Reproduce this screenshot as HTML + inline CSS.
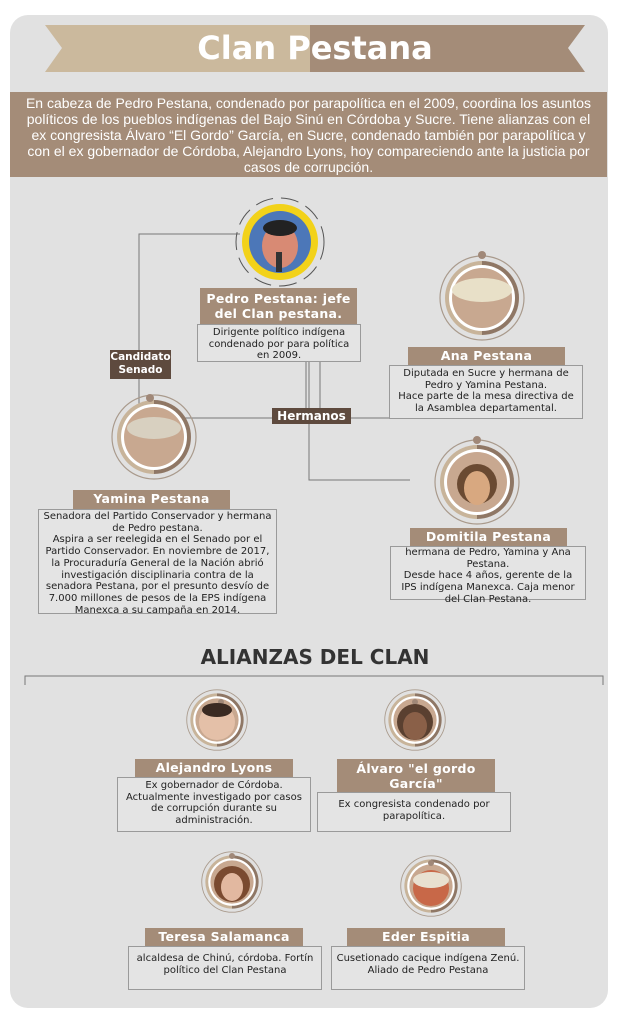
<!DOCTYPE html>
<html><head><meta charset="utf-8"><style>
body{margin:0;width:617px;height:1024px;background:#fff;position:relative;overflow:hidden;font-family:"Liberation Sans","DejaVu Sans",sans-serif}
.a{position:absolute}
.card{left:10px;top:15px;width:598px;height:993px;background:#e1e1e1;border-radius:18px}
.lab{position:absolute;background:#a48c78;color:#fff;font-weight:bold;font-size:12.5px;text-align:center;font-family:"DejaVu Sans",sans-serif;line-height:17px;letter-spacing:.3px}
.desc{position:absolute;border:1px solid #9a9a9a;background:#e4e4e4;color:#222;font-size:10px;text-align:center;line-height:11.7px;font-family:"DejaVu Sans",sans-serif;box-sizing:border-box;padding-top:2px;white-space:nowrap}
.dk{position:absolute;background:#5e4a3e;color:#fff;font-weight:bold;font-size:10.5px;text-align:center;font-family:"DejaVu Sans",sans-serif}
</style></head><body>
<div class="a card"></div>
<svg class="a" style="left:0;top:0" width="617" height="1024">
<polygon points="45,25 310,25 310,72 45,72 62,48" fill="#cbb99d"/>
<polygon points="310,25 585,25 568,48 585,72 310,72" fill="#a48c78"/>
<rect x="10" y="92" width="597" height="85" fill="#a48c78"/>
<g stroke="#777" stroke-width="1" fill="none">
<polyline points="240,234 139,234 139,405"/>
<line x1="306" y1="362" x2="306" y2="418"/><line x1="309" y1="362" x2="309" y2="418"/><line x1="320" y1="362" x2="320" y2="418"/>
<line x1="185" y1="418" x2="390" y2="418"/>
<polyline points="309,424 309,480 410,480"/>
<polyline points="25,685 25,676 603,676 603,685"/>
</g>
<circle cx="280" cy="242" r="44" fill="none" stroke="#555" stroke-width="1" stroke-dasharray="18 8"/>
<circle cx="280" cy="242" r="38" fill="#f2d21a"/>
<circle cx="280" cy="242" r="31" fill="#4c77b8"/>
<ellipse cx="280" cy="246" rx="18" ry="22" fill="#d88a74"/>
<ellipse cx="280" cy="228" rx="17" ry="8" fill="#222"/>
<rect x="276" y="252" width="6" height="20" fill="#333"/>
</svg>
<svg class="a" style="left:0;top:0" width="617" height="1024">
<defs>
<g id="ring">
<circle r="42" fill="none" stroke="#a99a8c" stroke-width="1.2"/>
<path d="M0,-37 A37,37 0 0 0 0,37 Z" fill="#c8b49a"/>
<path d="M0,-37 A37,37 0 0 1 0,37 Z" fill="#8f7765"/>
<circle r="33" fill="#fff"/>
<circle r="30" fill="#c8a890"/>
</g>
</defs>
<use href="#ring" x="482" y="298"/><circle cx="482" cy="255" r="4" fill="#a08878"/>
<use href="#ring" x="154" y="437"/><circle cx="150" cy="398" r="4" fill="#a08878"/>
<use href="#ring" x="477" y="482"/><circle cx="477" cy="440" r="4" fill="#a08878"/>
<g transform="translate(217,720) scale(.72)"><use href="#ring"/></g><circle cx="221" cy="702" r="3" fill="#a08878"/>
<g transform="translate(415,720) scale(.72)"><use href="#ring"/></g><circle cx="415" cy="702" r="3" fill="#a08878"/>
<g transform="translate(232,882) scale(.72)"><use href="#ring"/></g><circle cx="232" cy="856" r="3" fill="#a08878"/>
<g transform="translate(431,886) scale(.72)"><use href="#ring"/></g><circle cx="431" cy="863" r="3" fill="#a08878"/>
<ellipse cx="482" cy="290" rx="30" ry="12" fill="#e8e0c8"/>
<ellipse cx="154" cy="428" rx="27" ry="11" fill="#d8d0c0"/>
<circle cx="477" cy="484" r="20" fill="#6a4a32"/><ellipse cx="477" cy="488" rx="13" ry="17" fill="#d8a880"/>
<circle cx="217" cy="722" r="18" fill="#e4c0a8"/><ellipse cx="217" cy="710" rx="15" ry="7" fill="#3a2a22"/>
<circle cx="415" cy="722" r="18" fill="#5a4030"/><ellipse cx="415" cy="726" rx="12" ry="14" fill="#8a6048"/>
<circle cx="232" cy="884" r="18" fill="#7a4a30"/><ellipse cx="232" cy="887" rx="11" ry="14" fill="#e2b8a0"/>
<circle cx="431" cy="888" r="18" fill="#c86848"/><ellipse cx="431" cy="880" rx="18" ry="8" fill="#e8e0d0"/>
</svg>
<div class="a" style="left:45px;top:25px;width:540px;height:47px;line-height:47px;text-align:center;color:#fff;font-weight:bold;font-size:32px;font-family:'DejaVu Sans',sans-serif">Clan Pestana</div>
<div class="a" style="left:10px;top:95px;width:597px;text-align:center;color:#fff;font-size:14px;line-height:16px;white-space:nowrap">En cabeza de Pedro Pestana, condenado por parapolítica en el 2009, coordina los asuntos<br>políticos de los pueblos indígenas del Bajo Sinú en Córdoba y Sucre. Tiene alianzas con el<br>ex congresista Álvaro “El Gordo” García, en Sucre, condenado también por parapolítica y<br>con el ex gobernador de Córdoba, Alejandro Lyons, hoy compareciendo ante la justicia por<br>casos de corrupción.</div>

<div class="lab" style="left:200px;top:288px;width:157px;height:36px;line-height:15px;padding-top:3px;box-sizing:border-box">Pedro Pestana: jefe<br>del Clan pestana.</div>
<div class="desc" style="left:197px;top:324px;width:164px;height:38px">Dirigente político indígena<br>condenado por para política<br>en 2009.</div>
<div class="dk" style="left:110px;top:350px;width:61px;height:28px;line-height:13px;padding-top:1px">Candidato<br>Senado</div>
<div class="dk" style="left:272px;top:408px;width:79px;height:16px;line-height:16px;font-size:12px">Hermanos</div>

<div class="lab" style="left:408px;top:347px;width:157px;height:18px">Ana Pestana</div>
<div class="desc" style="left:389px;top:365px;width:194px;height:54px">Diputada en Sucre y hermana de<br>Pedro y Yamina Pestana.<br>Hace parte de la mesa directiva de<br>la Asamblea departamental.</div>

<div class="lab" style="left:73px;top:490px;width:157px;height:19px">Yamina Pestana</div>
<div class="desc" style="left:38px;top:509px;width:239px;height:105px;padding-top:1px">Senadora del Partido Conservador y hermana<br>de Pedro pestana.<br>Aspira a ser reelegida en el Senado por el<br>Partido Conservador. En noviembre de 2017,<br>la Procuraduría General de la Nación abrió<br>investigación disciplinaria contra de la<br>senadora Pestana, por el presunto desvío de<br>7.000 millones de pesos de la EPS indígena<br>Manexca a su campaña en 2014.</div>

<div class="lab" style="left:410px;top:528px;width:157px;height:18px">Domitila Pestana</div>
<div class="desc" style="left:390px;top:546px;width:196px;height:54px;padding-top:0">hermana de Pedro, Yamina y Ana<br>Pestana.<br>Desde hace 4 años, gerente de la<br>IPS indígena Manexca. Caja menor<br>del Clan Pestana.</div>

<div class="a" style="left:150px;top:645px;width:330px;text-align:center;font-weight:bold;font-size:20px;color:#333;font-family:'DejaVu Sans',sans-serif">ALIANZAS DEL CLAN</div>

<div class="lab" style="left:135px;top:759px;width:158px;height:18px">Alejandro Lyons</div>
<div class="desc" style="left:117px;top:777px;width:194px;height:55px">Ex gobernador de Córdoba.<br>Actualmente investigado por casos<br>de corrupción durante su<br>administración.</div>
<div class="lab" style="left:337px;top:759px;width:158px;height:33px;line-height:15px;padding-top:2px;box-sizing:border-box">Álvaro "el gordo<br>García"</div>
<div class="desc" style="left:317px;top:792px;width:194px;height:40px;padding-top:6px">Ex congresista condenado por<br>parapolítica.</div>

<div class="lab" style="left:145px;top:928px;width:158px;height:18px">Teresa Salamanca</div>
<div class="desc" style="left:128px;top:946px;width:194px;height:44px;padding-top:6px">alcaldesa de Chinú, córdoba. Fortín<br>político del Clan Pestana</div>
<div class="lab" style="left:347px;top:928px;width:158px;height:18px">Eder Espitia</div>
<div class="desc" style="left:331px;top:946px;width:194px;height:44px;padding-top:6px">Cusetionado cacique indígena Zenú.<br>Aliado de Pedro Pestana</div>
</body></html>
